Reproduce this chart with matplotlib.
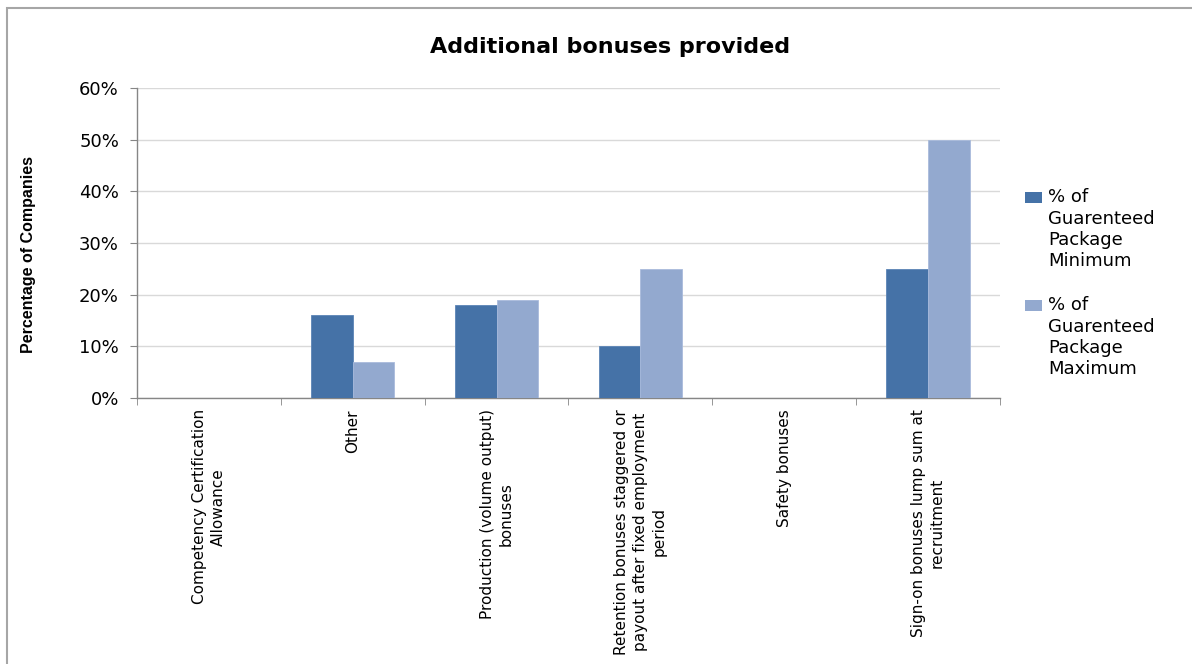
import matplotlib
matplotlib.use("Agg")
import matplotlib.pyplot as plt
from matplotlib.patches import Rectangle
from matplotlib.ticker import PercentFormatter, FixedLocator
import numpy as np

categories = [
    "Competency Certification\nAllowance",
    "Other",
    "Production (volume output)\nbonuses",
    "Retention bonuses staggered or\npayout after fixed employment\nperiod",
    "Safety bonuses",
    "Sign-on bonuses lump sum at\nrecruitment",
]
pct_minimum = [0, 16, 18, 10, 0, 25]
pct_maximum = [0, 7, 19, 25, 0, 50]
series_names = [
    "% of\nGuarenteed\nPackage\nMinimum",
    "% of\nGuarenteed\nPackage\nMaximum",
]

COL_MIN = "#4572A7"
COL_MAX = "#93A9CF"
FONT = "DejaVu Sans"
W, H = 1192, 664

fig = plt.figure(figsize=(W / 100, H / 100), dpi=100)
fig.patch.set_facecolor("white")

# chart-area frame (only top/left edges fall inside the image)
fig.add_artist(Rectangle((7 / W, -0.05), 1.2, 1.05 - 8 / H,
                         transform=fig.transFigure, fill=False,
                         edgecolor="#a6a6a6", linewidth=1.5))

ax = fig.add_axes([137 / W, 1 - 398 / H, (1000 - 137) / W, (398 - 88) / H])

x = np.arange(len(categories))
w = 0.29
ax.bar(x - w / 2, pct_minimum, width=w, color=COL_MIN, edgecolor="#5b84b6",
       linewidth=0.6, zorder=3)
ax.bar(x + w / 2, pct_maximum, width=w, color=COL_MAX, edgecolor="#a9bbdc",
       linewidth=0.6, zorder=3)

ax.set_xlim(-0.5, len(categories) - 0.5)
ax.set_ylim(0, 60)
ax.set_yticks(np.arange(0, 61, 10))
ax.yaxis.set_major_formatter(PercentFormatter(decimals=0))
ax.grid(axis="y", color="#d9d9d9", linewidth=1.0, zorder=0)

for side in ["top", "right"]:
    ax.spines[side].set_visible(False)
for side in ["left", "bottom"]:
    ax.spines[side].set_color("#868686")
    ax.spines[side].set_linewidth(1.0)

# category labels centred under each group, tick marks between groups
ax.set_xticks(x)
ax.set_xticklabels(categories, rotation=90, ha="center", va="top",
                   multialignment="center", fontsize=11, family=FONT,
                   linespacing=1.3)
ax.tick_params(axis="x", length=0, pad=8)
ax.xaxis.set_minor_locator(FixedLocator(np.arange(-0.5, len(categories), 1.0)))
ax.tick_params(axis="x", which="minor", length=5, color="#868686", direction="out")
ax.tick_params(axis="y", length=5, color="#868686", labelsize=13, pad=8)
for lbl in ax.get_yticklabels():
    lbl.set_family(FONT)

ax.set_ylabel("Percentage of Companies", fontsize=11.5, fontweight="bold",
              family=["Liberation Sans Narrow", "Liberation Sans"])
ax.yaxis.set_label_coords((36 - 137) / 863, (398 - 254) / 310)

fig.text(610 / W, 1 - 47 / H, "Additional bonuses provided", ha="center",
         va="center", fontsize=16, fontweight="bold", family=FONT)

# legend: swatch sits beside the first line of each entry
legend_tops = [190, 298]
for name, col, top in zip(series_names, [COL_MIN, COL_MAX], legend_tops):
    fig.add_artist(Rectangle((1025 / W, 1 - (top + 13) / H), 17 / W, 11 / H,
                             transform=fig.transFigure, facecolor=col,
                             edgecolor="none"))
    fig.text(1048 / W, 1 - (top - 2) / H, name, ha="left", va="top",
             fontsize=13, family=FONT, linespacing=1.25)

fig.savefig("out.png", dpi=100, facecolor="white")
